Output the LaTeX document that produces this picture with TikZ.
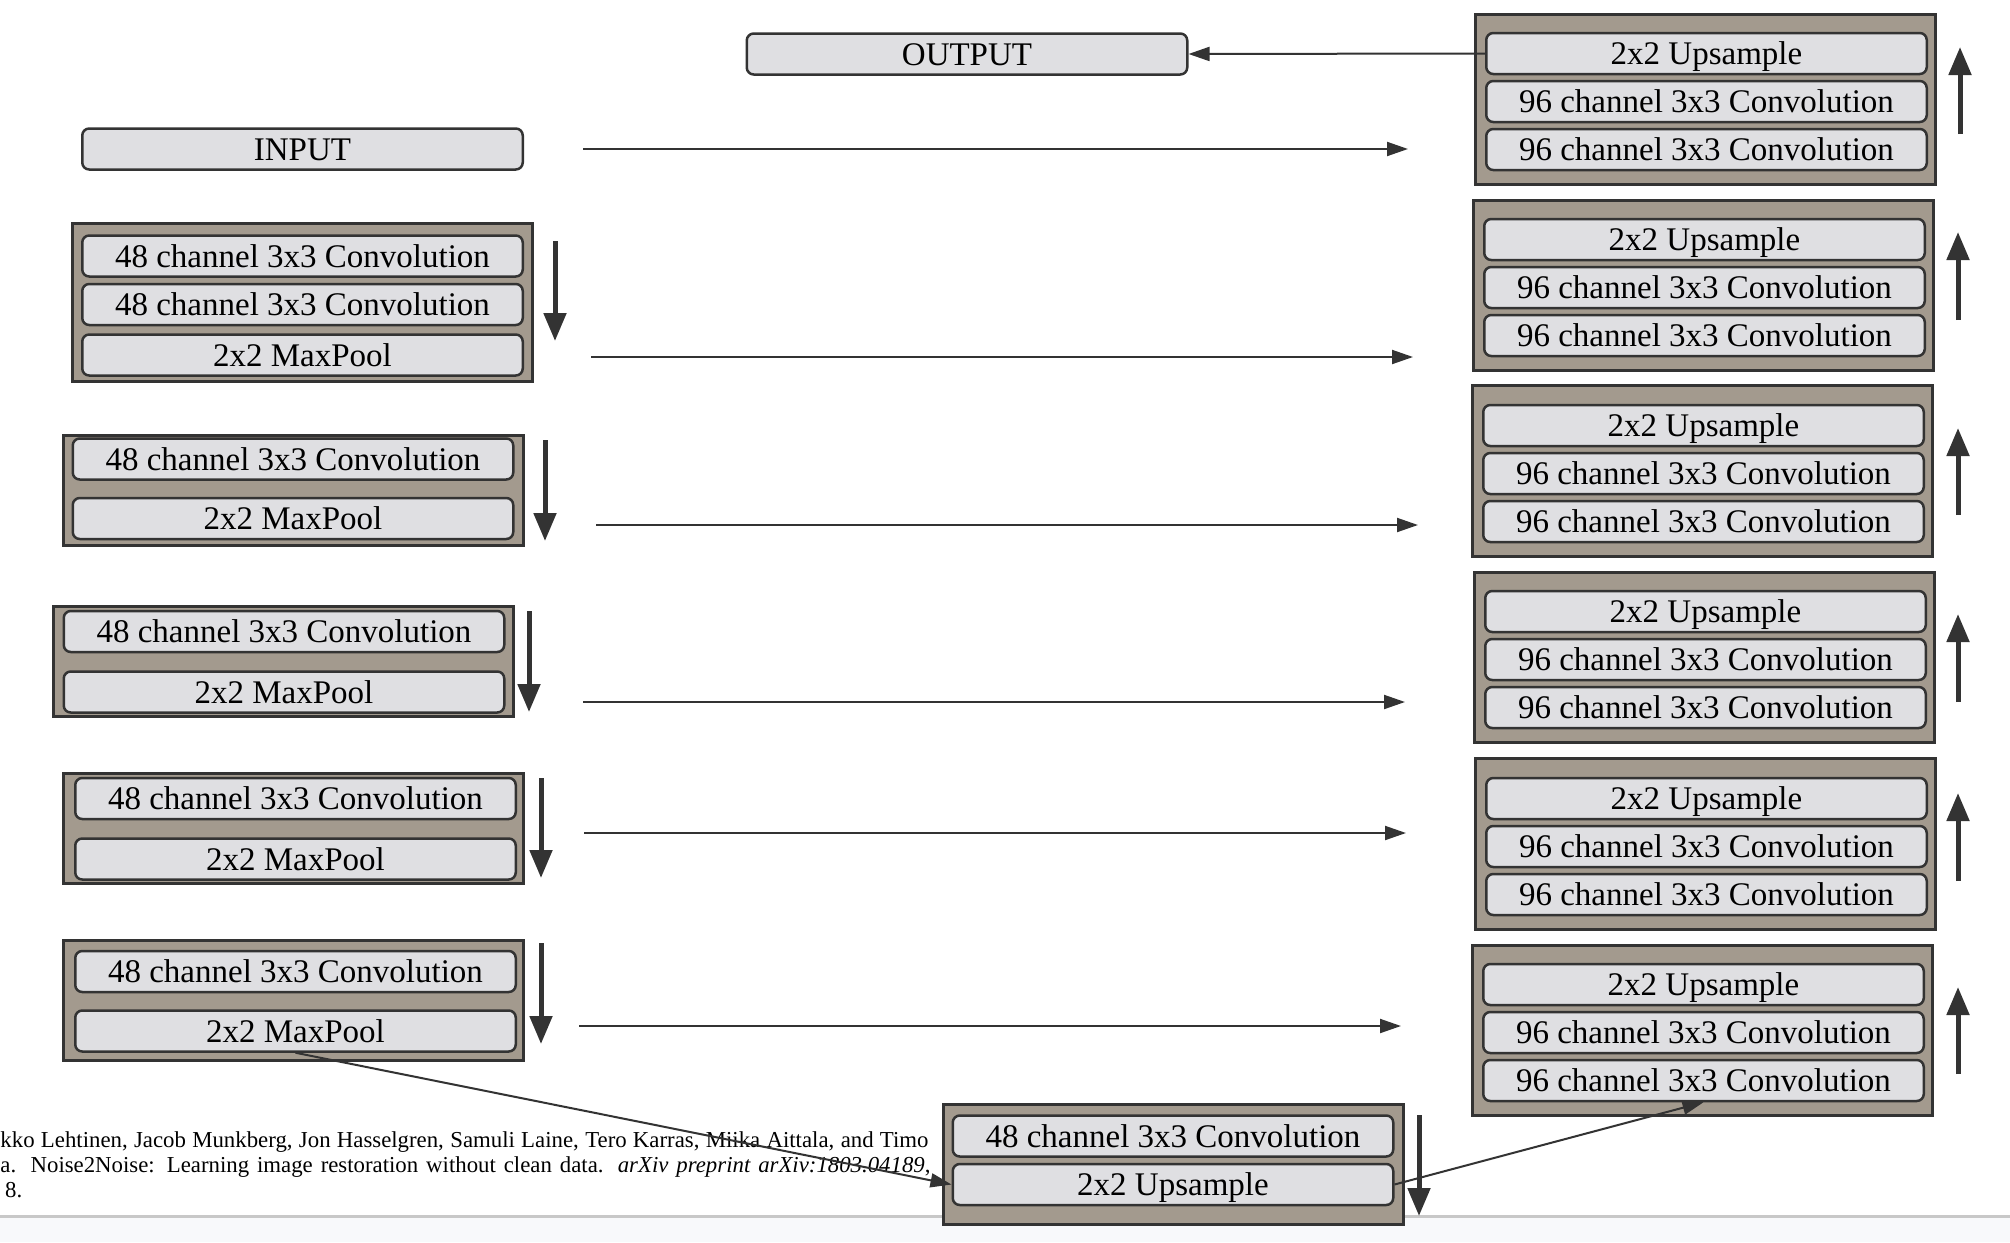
\documentclass[tikz,border=0pt]{standalone}
\usepackage{fontspec}
\setmainfont{Liberation Serif}
\usepackage{xcolor}
\usepackage{tikz}
\usetikzlibrary{arrows.meta}
\usetikzlibrary{positioning}
\definecolor{taupe}{HTML}{A39A8E}
\definecolor{panel}{HTML}{DFDFE2}
\definecolor{ink}{HTML}{333333}
\definecolor{rulegray}{HTML}{C8C8C8}
\definecolor{strip}{HTML}{F8F9FB}
\tikzstyle{stage} = [rectangle, draw=ink, fill=taupe, line width=3pt,
    minimum width=460pt, inner sep=0pt]
\tikzstyle{layer} = [rectangle, draw=ink, fill=panel, line width=2.5pt,
    rounded corners=7pt, minimum width=440.5pt, minimum height=41pt,
    text height=22pt, text depth=0pt, inner sep=0pt,
    font=\fontsize{33}{40}\selectfont]
\tikzstyle{line} = [draw=ink, line width=2pt, -{Triangle[length=21pt,width=14pt]}]
\tikzstyle{flow} = [draw=ink, line width=5pt, -{Triangle[length=28pt,width=22pt]}]
\tikzstyle{citeline} = [anchor=base west, inner sep=0pt,
    font=\fontsize{22.8}{26}\selectfont]

\begin{document}
\begin{tikzpicture}[x=1pt, y=-1pt, node distance=5pt]
  \useasboundingbox (0,0) rectangle (2010,1242);
  % Page behind the figure
  \fill[strip] (0,1218) rectangle (2010,1242);
  \draw[rulegray, line width=3pt] (0,1216.5) -- (2010,1216.5);
  \node[citeline] (cite1) at (0.3,1147) {\makebox[928pt][s]{kko Lehtinen, Jacob Munkberg, Jon Hasselgren, Samuli Laine, Tero Karras, Miika Aittala, and Timo}};
  \node[citeline] (cite2) at (0.3,1172) {\makebox[930pt][s]{a.  Noise2Noise:  Learning image restoration without clean data.  {\itshape arXiv preprint arXiv:1803.04189},}};
  \node[citeline] (cite3) at (5,1197) {8.};
  % Place stages
  \node[stage, minimum height=158pt] (f1) at (302,302.5) {};
  \node[stage, minimum height=110pt] (f2) at (293.5,490.5) {};
  \node[stage, minimum height=110pt] (f3) at (283.5,661.5) {};
  \node[stage, minimum height=110pt] (f4) at (293.5,828.5) {};
  \node[stage, minimum height=120pt] (f5) at (293.5,1000.5) {};
  \node[stage, minimum height=120pt] (fb) at (1173,1164.5) {};
  \node[stage, minimum height=170pt] (g1) at (1705.5,99.5) {};
  \node[stage, minimum height=170pt] (g2) at (1703.5,285.5) {};
  \node[stage, minimum height=171pt] (g3) at (1702,471) {};
  \node[stage, minimum height=170pt] (g4) at (1704.5,657.5) {};
  \node[stage, minimum height=171pt] (g5) at (1705.5,844) {};
  \node[stage, minimum height=170pt] (g6) at (1702.5,1030.5) {};
  % Place layers
  \node[layer] (input) at (302.5,149) {INPUT};
  \node[layer] (output) at (967,54) {OUTPUT};
  \node[layer] (l1a) at (302.5,256) {48 channel 3x3 Convolution};
  \node[layer, below=of l1a] (l1b) {48 channel 3x3 Convolution};
  \node[layer, below=7pt of l1b] (l1c) {2x2 MaxPool};
  \node[layer] (l2a) at (293,459) {48 channel 3x3 Convolution};
  \node[layer, below=16pt of l2a] (l2b) {2x2 MaxPool};
  \node[layer] (l3a) at (284,631.5) {48 channel 3x3 Convolution};
  \node[layer, below=17pt of l3a] (l3b) {2x2 MaxPool};
  \node[layer] (l4a) at (295.5,798.5) {48 channel 3x3 Convolution};
  \node[layer, below=17pt of l4a] (l4b) {2x2 MaxPool};
  \node[layer] (l5a) at (295.5,971.5) {48 channel 3x3 Convolution};
  \node[layer, below=16pt of l5a] (l5b) {2x2 MaxPool};
  \node[layer] (ba) at (1173,1136) {48 channel 3x3 Convolution};
  \node[layer, below=of ba] (bb) {2x2 Upsample};
  \node[layer] (r1a) at (1706.5,53.5) {2x2 Upsample};
  \node[layer, below=4.5pt of r1a] (r1b) {96 channel 3x3 Convolution};
  \node[layer, below=4.5pt of r1b] (r1c) {96 channel 3x3 Convolution};
  \node[layer] (r2a) at (1704.5,239.5) {2x2 Upsample};
  \node[layer, below=4.5pt of r2a] (r2b) {96 channel 3x3 Convolution};
  \node[layer, below=4.5pt of r2b] (r2c) {96 channel 3x3 Convolution};
  \node[layer] (r3a) at (1703.5,425.5) {2x2 Upsample};
  \node[layer, below=4.5pt of r3a] (r3b) {96 channel 3x3 Convolution};
  \node[layer, below=4.5pt of r3b] (r3c) {96 channel 3x3 Convolution};
  \node[layer] (r4a) at (1705.5,611.5) {2x2 Upsample};
  \node[layer, below=4.5pt of r4a] (r4b) {96 channel 3x3 Convolution};
  \node[layer, below=4.5pt of r4b] (r4c) {96 channel 3x3 Convolution};
  \node[layer] (r5a) at (1706.5,798.5) {2x2 Upsample};
  \node[layer, below=4.5pt of r5a] (r5b) {96 channel 3x3 Convolution};
  \node[layer, below=4.5pt of r5b] (r5c) {96 channel 3x3 Convolution};
  \node[layer] (r6a) at (1703.5,984.5) {2x2 Upsample};
  \node[layer, below=4.5pt of r6a] (r6b) {96 channel 3x3 Convolution};
  \node[layer, below=4.5pt of r6b] (r6c) {96 channel 3x3 Convolution};
  % Skip ends
  \coordinate (s0) at (583,149);  \coordinate (e0) at (1408,149);
  \coordinate (s1) at (591,357);  \coordinate (e1) at (1413,357);
  \coordinate (s2) at (596,525);  \coordinate (e2) at (1418,525);
  \coordinate (s3) at (583,702);  \coordinate (e3) at (1405,702);
  \coordinate (s4) at (584,833);  \coordinate (e4) at (1406,833);
  \coordinate (s5) at (579,1026); \coordinate (e5) at (1401,1026);
  % Direction marks
  \coordinate (d1) at (555,241);   \coordinate (d1e) at (555,341);
  \coordinate (d2) at (545,440);   \coordinate (d2e) at (545,541);
  \coordinate (d3) at (529,611);   \coordinate (d3e) at (529,712);
  \coordinate (d4) at (541,778);   \coordinate (d4e) at (541,878);
  \coordinate (d5) at (541,943);   \coordinate (d5e) at (541,1044);
  \coordinate (db) at (1419,1115); \coordinate (dbe) at (1419,1216);
  \coordinate (u1) at (1960,134);  \coordinate (u1e) at (1960,47);
  \coordinate (u2) at (1958,320);  \coordinate (u2e) at (1958,232);
  \coordinate (u3) at (1958,515);  \coordinate (u3e) at (1958,428);
  \coordinate (u4) at (1958,702);  \coordinate (u4e) at (1958,614);
  \coordinate (u5) at (1958,881);  \coordinate (u5e) at (1958,793);
  \coordinate (u6) at (1958,1074); \coordinate (u6e) at (1958,987);
  % Draw edges
  \path [line] (r1a.west) -- (output.east);
  \path [line] (s0) -- (e0);
  \path [line] (s1) -- (e1);
  \path [line] (s2) -- (e2);
  \path [line] (s3) -- (e3);
  \path [line] (s4) -- (e4);
  \path [line] (s5) -- (e5);
  \path [line] (l5b.south) -- (bb.west);
  \path [line] (bb.east) -- (r6c.south);
  \path [flow] (d1) -- (d1e);
  \path [flow] (d2) -- (d2e);
  \path [flow] (d3) -- (d3e);
  \path [flow] (d4) -- (d4e);
  \path [flow] (d5) -- (d5e);
  \path [flow] (db) -- (dbe);
  \path [flow] (u1) -- (u1e);
  \path [flow] (u2) -- (u2e);
  \path [flow] (u3) -- (u3e);
  \path [flow] (u4) -- (u4e);
  \path [flow] (u5) -- (u5e);
  \path [flow] (u6) -- (u6e);
\end{tikzpicture}
\end{document}
